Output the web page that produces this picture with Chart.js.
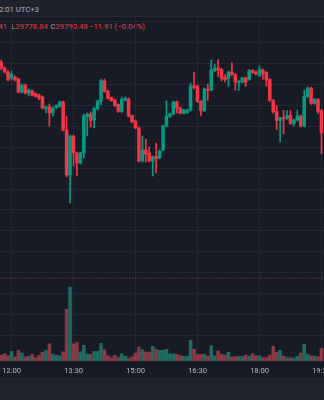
<!DOCTYPE html>
<html>
<head>
<meta charset="utf-8">
<script src="https://cdn.jsdelivr.net/npm/chart.js@4/dist/chart.umd.min.js"></script>
<style>
  html, body { margin: 0; padding: 0; }
  body { width: 324px; height: 400px; overflow: hidden; position: relative; background: #171b26; font-family: Roboto, "Noto Sans", sans-serif; }
  #top { position: absolute; left: 0; top: 0; width: 324px; height: 16px; background: #1e222d; border-bottom: 1px solid #2a2e39; }
  #bottom { position: absolute; left: 0; top: 377px; width: 324px; height: 23px; background: #1f232e; }
  .t { position: absolute; white-space: nowrap; font-size: 7.7px; line-height: 9px; }
  #cv { position: absolute; left: -30px; top: 17px; }
</style>
</head>
<body>
<div id="top"></div>
<div class="t" style="left:-1px; top:5px; color:#b2b5be;">2:01 UTC+3</div>
<div class="t" style="left:-1.5px; top:22px; color:#e8404e;">41</div>
<div class="t" style="left:11px; top:22px; color:#b2b5be;">L</div>
<div class="t" style="left:15.5px; top:22px; color:#e8404e;">29778.84</div>
<div class="t" style="left:50.5px; top:22px; color:#b2b5be;">C</div>
<div class="t" style="left:55.5px; top:22px; color:#e8404e;">29790.48</div>
<div class="t" style="left:89px; top:22px; color:#e8404e;">−11.91 (−0.04%)</div>
<canvas id="cv" width="384" height="361"></canvas>
<div id="bottom"></div>
<script>
// ---- data (5-minute candles, index 0 = 12:00) ----
const firstIndex = -3;
const tickIndex = [0, 18, 36, 54, 72, 90];
const tickLabels = ['12:00', '13:30', '15:00', '16:30', '18:00', '19:30'];
const opens = [29880.48,29877.62,29875.71,29872.86,29873.33,29872.38,29866.19,29869.52,29865.71,29866.67,
  29865.48,29864.76,29863.81,29858.33,29859.05,29856.19,29858.81,29859.29,29861.43,29848.10,
  29826.67,29845.24,29837.14,29832.38,29837.14,29854.52,29855.48,29852.86,29858.10,29861.90,
  29871.43,29866.67,29863.57,29862.38,29860.24,29856.90,29862.38,29862.86,29855.00,29852.38,
  29849.05,29833.33,29838.57,29837.14,29833.33,29835.48,29834.76,29838.57,29850.00,29854.52,
  29855.71,29861.43,29858.57,29856.05,29856.33,29857.62,29869.05,29869.05,29861.67,29857.38,
  29867.62,29867.14,29876.43,29877.62,29876.90,29873.10,29872.62,29875.71,29874.52,29870.71,
  29870.95,29872.86,29872.14,29876.43,29875.71,29874.05,29876.67,29875.48,29872.14,29862.14,
  29856.90,29852.62,29854.05,29853.57,29855.00,29851.19,29852.86,29854.76,29850.00,29864.05,
  29868.10,29860.71,29862.62,29857.38];
const highs = [29881.43,29878.10,29876.67,29876.19,29873.81,29872.86,29870.00,29870.00,29867.62,29867.14,
  29865.71,29865.24,29864.29,29859.52,29860.48,29859.05,29860.00,29861.90,29861.90,29854.76,
  29845.71,29845.71,29837.62,29837.62,29855.71,29856.19,29856.67,29859.05,29862.38,29872.38,
  29872.38,29867.14,29863.81,29862.86,29860.48,29863.81,29863.81,29863.33,29855.24,29852.86,
  29849.52,29845.24,29843.81,29840.00,29835.71,29841.90,29838.57,29850.48,29861.90,29856.19,
  29861.90,29861.90,29859.05,29858.10,29858.10,29870.48,29875.71,29869.52,29862.14,29868.10,
  29870.00,29881.43,29879.29,29881.67,29877.38,29874.52,29876.19,29880.24,29875.00,29871.67,
  29873.33,29873.33,29876.90,29876.90,29876.19,29878.57,29877.14,29875.95,29872.62,29862.62,
  29859.52,29854.29,29857.38,29857.38,29857.38,29853.33,29857.62,29855.24,29867.14,29868.57,
  29868.57,29863.10,29863.10,29857.86];
const lows = [29876.67,29875.24,29871.43,29871.90,29871.43,29865.71,29865.71,29865.24,29864.29,29864.29,
  29863.81,29862.38,29858.10,29856.19,29850.00,29854.76,29858.33,29859.05,29847.62,29825.71,
  29813.33,29830.95,29826.19,29831.90,29834.76,29845.24,29849.52,29849.05,29857.62,29860.00,
  29865.95,29862.62,29861.90,29859.29,29856.43,29856.43,29861.90,29854.29,29851.43,29848.57,
  29832.86,29832.86,29832.86,29832.86,29826.19,29827.62,29834.29,29838.10,29849.52,29854.05,
  29855.24,29856.19,29855.71,29855.71,29855.95,29857.14,29867.62,29861.19,29854.76,29856.90,
  29862.14,29866.67,29875.95,29873.57,29871.43,29870.95,29868.81,29874.05,29867.14,29866.90,
  29870.48,29868.81,29871.67,29875.00,29874.29,29873.57,29872.14,29869.05,29861.67,29856.19,
  29848.33,29842.38,29846.19,29853.10,29850.71,29850.00,29852.38,29849.52,29849.52,29863.57,
  29860.24,29860.24,29855.95,29836.90];
const closes = [29877.62,29875.71,29871.90,29874.76,29871.90,29866.19,29869.52,29865.71,29867.14,29864.76,
  29864.05,29863.33,29858.57,29859.05,29856.19,29858.57,29859.76,29861.43,29848.10,29826.67,
  29845.24,29837.14,29832.38,29837.14,29854.76,29855.71,29852.62,29858.33,29861.90,29871.67,
  29866.43,29863.10,29862.14,29859.76,29856.90,29862.62,29863.10,29854.76,29851.90,29849.05,
  29833.33,29838.57,29836.67,29833.33,29835.24,29834.52,29838.10,29850.00,29854.76,29855.71,
  29861.43,29858.57,29856.05,29857.62,29857.62,29869.05,29868.33,29861.67,29857.38,29867.62,
  29866.90,29876.67,29877.62,29876.67,29872.62,29872.14,29875.71,29874.52,29870.95,29871.19,
  29872.86,29870.95,29876.43,29875.48,29874.76,29876.90,29875.00,29871.90,29862.14,29856.67,
  29852.62,29853.81,29853.57,29855.00,29851.19,29852.86,29854.76,29850.00,29864.05,29868.10,
  29860.71,29862.62,29856.90,29846.67];
const volumes = [23,29,21,39,16,43,32,16,19,27,
  13,23,35,43,69,27,23,21,37,207,
  296,69,75,37,63,27,27,39,39,71,
  45,21,13,23,13,29,19,11,16,32,
  56,45,36,36,59,48,43,43,47,29,
  29,27,21,19,19,83,47,27,27,27,
  19,61,21,40,27,24,35,16,16,19,
  19,24,19,29,21,21,13,13,24,59,
  35,43,19,13,13,11,19,32,67,27,
  21,19,16,51];
const priceLine = 29777.62;

// ---- styles ----
const UP = '#089981', DOWN = '#f23645';
const VUP = '#1f6b62', VDOWN = '#8a3a44';

const idx = opens.map((_, k) => firstIndex + k);
const isUp = opens.map((o, k) => closes[k] >= o);
const bodies = idx.map((x, k) => ({ x, y: [opens[k], closes[k]] }));
const wicks = idx.map((x, k) => ({ x, y: [lows[k], highs[k]] }));
const vols = idx.map((x, k) => ({ x, y: volumes[k] }));

const xMin = -12.05, xMax = 99.45;

new Chart(document.getElementById('cv'), {
  type: 'bar',
  data: {
    datasets: [
      { data: bodies, backgroundColor: isUp.map(u => u ? UP : DOWN), barThickness: 2.9, grouped: false, minBarLength: 1, borderWidth: 0, yAxisID: 'y' },
      { data: wicks, backgroundColor: isUp.map(u => u ? UP : DOWN), barThickness: 1, grouped: false, borderWidth: 0, yAxisID: 'y' },
      { data: vols, backgroundColor: isUp.map(u => u ? VUP : VDOWN), barThickness: 2.9, grouped: false, borderWidth: 0, yAxisID: 'yv' },
      { type: 'line', data: [{ x: xMin, y: priceLine }, { x: xMax, y: priceLine }], borderColor: 'rgba(225,55,75,0.6)', borderWidth: 1, borderDash: [1.5, 1.5], pointRadius: 0, yAxisID: 'y' }
    ]
  },
  options: {
    responsive: false,
    animation: false,
    events: [],
    layout: { padding: 0 },
    plugins: { legend: { display: false }, tooltip: { enabled: false } },
    scales: {
      x: {
        type: 'linear', min: xMin, max: xMax, offset: false,
        grid: { color: '#232733', offset: false, drawTicks: false },
        border: { display: false },
        afterBuildTicks: s => { s.ticks = tickIndex.map(v => ({ value: v })); },
        afterFit: s => { s.height = 17; },
        ticks: {
          autoSkip: false, maxRotation: 0, padding: 5, color: '#b2b5be',
          font: { size: 7.7, family: 'Roboto' },
          callback: v => tickLabels[tickIndex.indexOf(v)]
        }
      },
      y: {
        position: 'right', min: 29738.095, max: 29901.905,
        grid: { color: '#232733', drawTicks: false },
        border: { display: false },
        ticks: { display: false, stepSize: 10, includeBounds: false },
        afterFit: s => { s.width = 0; }
      },
      yv: { display: false, min: 0, max: 1376 }
    }
  }
});
</script>
</body>
</html>
